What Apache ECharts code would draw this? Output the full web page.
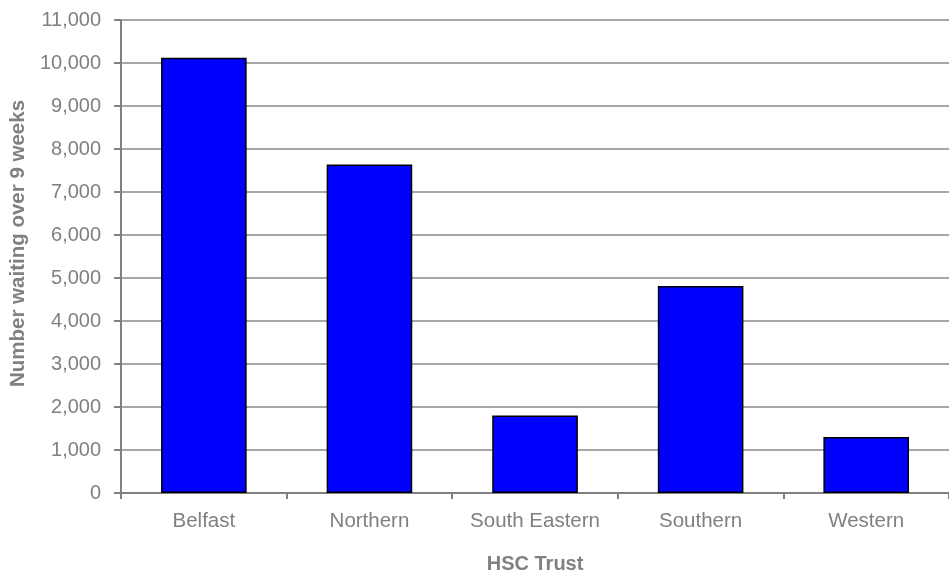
<!DOCTYPE html>
<html>
<head>
<meta charset="utf-8">
<script src="https://cdn.jsdelivr.net/npm/echarts@6/dist/echarts.min.js"></script>
<style>
  html, body { margin: 0; padding: 0; background: #ffffff; }
  #chart { width: 949px; height: 579px; }
</style>
</head>
<body>
<div id="chart"></div>
<script>
// Patients waiting over 9 weeks, by HSC Trust
const trusts = ['Belfast', 'Northern', 'South Eastern', 'Southern', 'Western'];
const waitingOver9Weeks = [10120, 7640, 1800, 4815, 1300];
const yAxisMax = 11000;
const yAxisStep = 1000;

const grey = '#808080';
const font = 'Liberation Sans, Arial, sans-serif';

const chart = echarts.init(document.getElementById('chart'), null, { renderer: 'canvas' });
chart.setOption({
  animation: false,
  backgroundColor: '#ffffff',
  // plot area runs a little past the right edge of the canvas
  grid: { left: 120, width: 838, top: 20, height: 480, containLabel: false },
  xAxis: {
    type: 'category',
    data: trusts,
    boundaryGap: true,
    name: 'HSC Trust',
    nameLocation: 'middle',
    nameGap: 61,
    nameTextStyle: { color: grey, fontFamily: font, fontSize: 20, fontWeight: 'bold' },
    axisLine: { lineStyle: { color: grey, width: 2 } },
    axisTick: { show: true, interval: 0, length: 6, lineStyle: { color: grey, width: 2 } },
    axisLabel: { color: grey, fontFamily: font, fontSize: 20.5, margin: 18, interval: 0 }
  },
  yAxis: {
    type: 'value',
    min: 0,
    max: yAxisMax,
    interval: yAxisStep,
    name: 'Number waiting over 9 weeks',
    nameLocation: 'middle',
    nameGap: 92,
    nameTextStyle: {
      color: grey, fontFamily: font, fontSize: 20.5, fontWeight: 'bold',
      padding: [0, 0, 0, 26]
    },
    axisLine: { show: true, lineStyle: { color: grey, width: 2 } },
    axisTick: { show: true, length: 7, lineStyle: { color: grey, width: 2 } },
    axisLabel: {
      color: grey, fontFamily: font, fontSize: 20, margin: 20,
      formatter: v => v.toLocaleString('en-US')
    },
    splitLine: { show: true, lineStyle: { color: '#8a8a8a', width: 1.5 } }
  },
  series: [{
    type: 'bar',
    data: waitingOver9Weeks,
    barWidth: '51.7%',
    itemStyle: { color: '#0000ff', borderColor: '#000000', borderWidth: 1.5 }
  }]
});
</script>
</body>
</html>
